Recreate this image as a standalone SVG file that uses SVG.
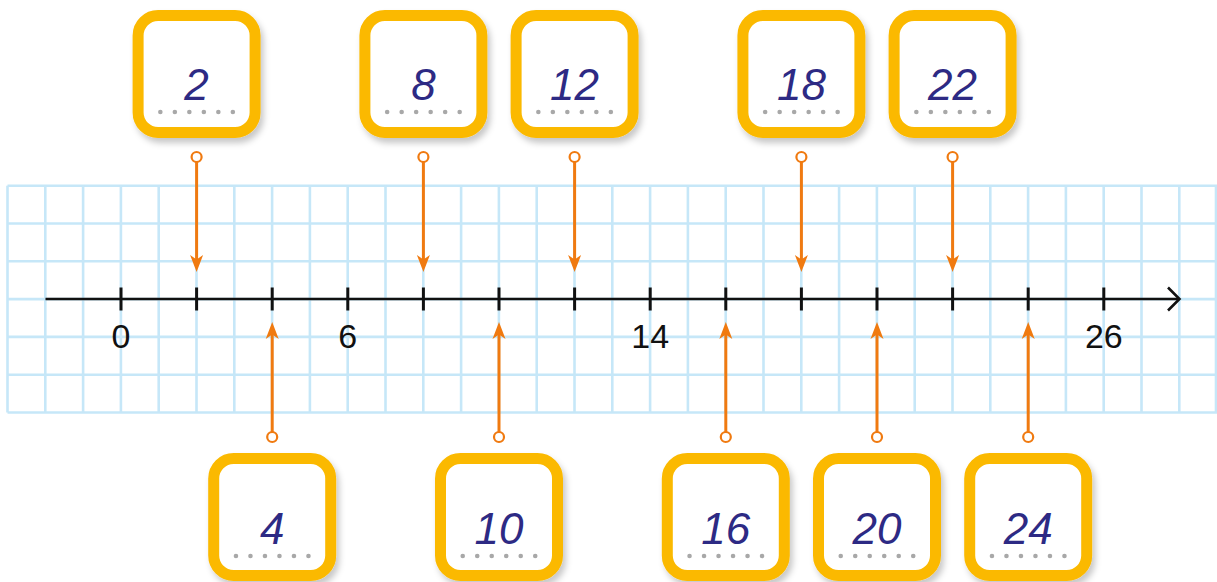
<svg xmlns="http://www.w3.org/2000/svg" width="1217" height="582" viewBox="0 0 1217 582">
<defs>
<style>
.grid line{stroke:#c6e7f8;stroke-width:2.6}
.axis{stroke:#111;stroke-width:2.6;fill:none}
.tick{stroke:#111;stroke-width:3}
.lab{font-family:"Liberation Sans",Arial,sans-serif;font-size:34px;fill:#111;text-anchor:middle}
.box{fill:#fff;stroke:#fbb900;stroke-width:11;filter:url(#sh)}
.num{font-family:"Liberation Sans",Arial,sans-serif;font-style:italic;font-size:44px;fill:#2d2a84;text-anchor:middle}
.dot{fill:#a8a8a8}
.con line{stroke:#f07a10;stroke-width:3}
.con circle{fill:#fff;stroke:#f07a10;stroke-width:2.2}
.con path{fill:#f07a10}
</style>
<filter id="sh" x="-20%" y="-20%" width="150%" height="150%">
<feDropShadow dx="3" dy="5" stdDeviation="3" flood-color="#000" flood-opacity="0.22"/>
</filter>
<g id="dots">
<circle class="dot" cx="-36.25" cy="0" r="2.3"/><circle class="dot" cx="-21.75" cy="0" r="2.3"/><circle class="dot" cx="-7.25" cy="0" r="2.3"/><circle class="dot" cx="7.25" cy="0" r="2.3"/><circle class="dot" cx="21.75" cy="0" r="2.3"/><circle class="dot" cx="36.25" cy="0" r="2.3"/>
</g>
</defs>
<rect width="1217" height="582" fill="#fff"/>
<g class="grid">
<line x1="7.5" y1="185.7" x2="1217" y2="185.7"/><line x1="7.5" y1="223.5" x2="1217" y2="223.5"/><line x1="7.5" y1="261.3" x2="1217" y2="261.3"/><line x1="7.5" y1="299.1" x2="1217" y2="299.1"/><line x1="7.5" y1="336.9" x2="1217" y2="336.9"/><line x1="7.5" y1="374.7" x2="1217" y2="374.7"/><line x1="7.5" y1="412.5" x2="1217" y2="412.5"/>
<line x1="7.5" y1="185.7" x2="7.5" y2="412.5"/><line x1="45.3" y1="185.7" x2="45.3" y2="412.5"/><line x1="83.1" y1="185.7" x2="83.1" y2="412.5"/><line x1="120.9" y1="185.7" x2="120.9" y2="412.5"/><line x1="158.7" y1="185.7" x2="158.7" y2="412.5"/><line x1="196.5" y1="185.7" x2="196.5" y2="412.5"/><line x1="234.3" y1="185.7" x2="234.3" y2="412.5"/><line x1="272.1" y1="185.7" x2="272.1" y2="412.5"/><line x1="309.9" y1="185.7" x2="309.9" y2="412.5"/><line x1="347.7" y1="185.7" x2="347.7" y2="412.5"/><line x1="385.5" y1="185.7" x2="385.5" y2="412.5"/><line x1="423.3" y1="185.7" x2="423.3" y2="412.5"/><line x1="461.1" y1="185.7" x2="461.1" y2="412.5"/><line x1="498.9" y1="185.7" x2="498.9" y2="412.5"/><line x1="536.7" y1="185.7" x2="536.7" y2="412.5"/><line x1="574.5" y1="185.7" x2="574.5" y2="412.5"/><line x1="612.3" y1="185.7" x2="612.3" y2="412.5"/><line x1="650.1" y1="185.7" x2="650.1" y2="412.5"/><line x1="687.9" y1="185.7" x2="687.9" y2="412.5"/><line x1="725.7" y1="185.7" x2="725.7" y2="412.5"/><line x1="763.5" y1="185.7" x2="763.5" y2="412.5"/><line x1="801.3" y1="185.7" x2="801.3" y2="412.5"/><line x1="839.1" y1="185.7" x2="839.1" y2="412.5"/><line x1="876.9" y1="185.7" x2="876.9" y2="412.5"/><line x1="914.7" y1="185.7" x2="914.7" y2="412.5"/><line x1="952.5" y1="185.7" x2="952.5" y2="412.5"/><line x1="990.3" y1="185.7" x2="990.3" y2="412.5"/><line x1="1028.1" y1="185.7" x2="1028.1" y2="412.5"/><line x1="1065.9" y1="185.7" x2="1065.9" y2="412.5"/><line x1="1103.7" y1="185.7" x2="1103.7" y2="412.5"/><line x1="1141.5" y1="185.7" x2="1141.5" y2="412.5"/><line x1="1179.3" y1="185.7" x2="1179.3" y2="412.5"/><line x1="1216" y1="185.7" x2="1216" y2="412.5"/>
</g>
<g id="axis">
<line class="axis" x1="45.5" y1="299" x2="1179" y2="299"/>
<polyline class="axis" points="1168,287.5 1179.5,299 1168,310.5"/>
<line class="tick" x1="121" y1="287.5" x2="121" y2="310.5"/><line class="tick" x1="196.6" y1="287.5" x2="196.6" y2="310.5"/><line class="tick" x1="272.2" y1="287.5" x2="272.2" y2="310.5"/><line class="tick" x1="347.8" y1="287.5" x2="347.8" y2="310.5"/><line class="tick" x1="423.4" y1="287.5" x2="423.4" y2="310.5"/><line class="tick" x1="499" y1="287.5" x2="499" y2="310.5"/><line class="tick" x1="574.6" y1="287.5" x2="574.6" y2="310.5"/><line class="tick" x1="650.2" y1="287.5" x2="650.2" y2="310.5"/><line class="tick" x1="725.8" y1="287.5" x2="725.8" y2="310.5"/><line class="tick" x1="801.4" y1="287.5" x2="801.4" y2="310.5"/><line class="tick" x1="877" y1="287.5" x2="877" y2="310.5"/><line class="tick" x1="952.6" y1="287.5" x2="952.6" y2="310.5"/><line class="tick" x1="1028.2" y1="287.5" x2="1028.2" y2="310.5"/><line class="tick" x1="1103.8" y1="287.5" x2="1103.8" y2="310.5"/>
<text class="lab" x="121" y="348">0</text>
<text class="lab" x="347.8" y="348">6</text>
<text class="lab" x="650.2" y="348">14</text>
<text class="lab" x="1103.8" y="348">26</text>
</g>
<g id="connectors" class="con">
<line x1="196.6" y1="162" x2="196.6" y2="260"/><circle cx="196.6" cy="157" r="5"/><path d="M196.6,272 L190.1,255 L196.6,259.5 L203.1,255 Z"/>
<line x1="423.4" y1="162" x2="423.4" y2="260"/><circle cx="423.4" cy="157" r="5"/><path d="M423.4,272 L416.9,255 L423.4,259.5 L429.9,255 Z"/>
<line x1="574.6" y1="162" x2="574.6" y2="260"/><circle cx="574.6" cy="157" r="5"/><path d="M574.6,272 L568.1,255 L574.6,259.5 L581.1,255 Z"/>
<line x1="801.4" y1="162" x2="801.4" y2="260"/><circle cx="801.4" cy="157" r="5"/><path d="M801.4,272 L794.9,255 L801.4,259.5 L807.9,255 Z"/>
<line x1="952.6" y1="162" x2="952.6" y2="260"/><circle cx="952.6" cy="157" r="5"/><path d="M952.6,272 L946.1,255 L952.6,259.5 L959.1,255 Z"/>
<line x1="272.2" y1="432" x2="272.2" y2="334"/><circle cx="272.2" cy="437" r="5"/><path d="M272.2,322 L265.7,339 L272.2,334.5 L278.7,339 Z"/>
<line x1="499" y1="432" x2="499" y2="334"/><circle cx="499" cy="437" r="5"/><path d="M499,322 L492.5,339 L499,334.5 L505.5,339 Z"/>
<line x1="725.8" y1="432" x2="725.8" y2="334"/><circle cx="725.8" cy="437" r="5"/><path d="M725.8,322 L719.3,339 L725.8,334.5 L732.3,339 Z"/>
<line x1="877" y1="432" x2="877" y2="334"/><circle cx="877" cy="437" r="5"/><path d="M877,322 L870.5,339 L877,334.5 L883.5,339 Z"/>
<line x1="1028.2" y1="432" x2="1028.2" y2="334"/><circle cx="1028.2" cy="437" r="5"/><path d="M1028.2,322 L1021.7,339 L1028.2,334.5 L1034.7,339 Z"/>
</g>
<g id="box2"><rect class="box" x="138.1" y="15.5" width="117" height="117" rx="20"/><text class="num" x="196.6" y="100">2</text><use href="#dots" x="196.6" y="112"/></g>
<g id="box8"><rect class="box" x="364.9" y="15.5" width="117" height="117" rx="20"/><text class="num" x="423.4" y="100">8</text><use href="#dots" x="423.4" y="112"/></g>
<g id="box12"><rect class="box" x="516.1" y="15.5" width="117" height="117" rx="20"/><text class="num" x="574.6" y="100">12</text><use href="#dots" x="574.6" y="112"/></g>
<g id="box18"><rect class="box" x="742.9" y="15.5" width="117" height="117" rx="20"/><text class="num" x="801.4" y="100">18</text><use href="#dots" x="801.4" y="112"/></g>
<g id="box22"><rect class="box" x="894.1" y="15.5" width="117" height="117" rx="20"/><text class="num" x="952.6" y="100">22</text><use href="#dots" x="952.6" y="112"/></g>
<g id="box4"><rect class="box" x="213.7" y="458.5" width="117" height="117" rx="20"/><text class="num" x="272.2" y="544">4</text><use href="#dots" x="272.2" y="556"/></g>
<g id="box10"><rect class="box" x="440.5" y="458.5" width="117" height="117" rx="20"/><text class="num" x="499" y="544">10</text><use href="#dots" x="499" y="556"/></g>
<g id="box16"><rect class="box" x="667.3" y="458.5" width="117" height="117" rx="20"/><text class="num" x="725.8" y="544">16</text><use href="#dots" x="725.8" y="556"/></g>
<g id="box20"><rect class="box" x="818.5" y="458.5" width="117" height="117" rx="20"/><text class="num" x="877" y="544">20</text><use href="#dots" x="877" y="556"/></g>
<g id="box24"><rect class="box" x="969.7" y="458.5" width="117" height="117" rx="20"/><text class="num" x="1028.2" y="544">24</text><use href="#dots" x="1028.2" y="556"/></g>
</svg>
